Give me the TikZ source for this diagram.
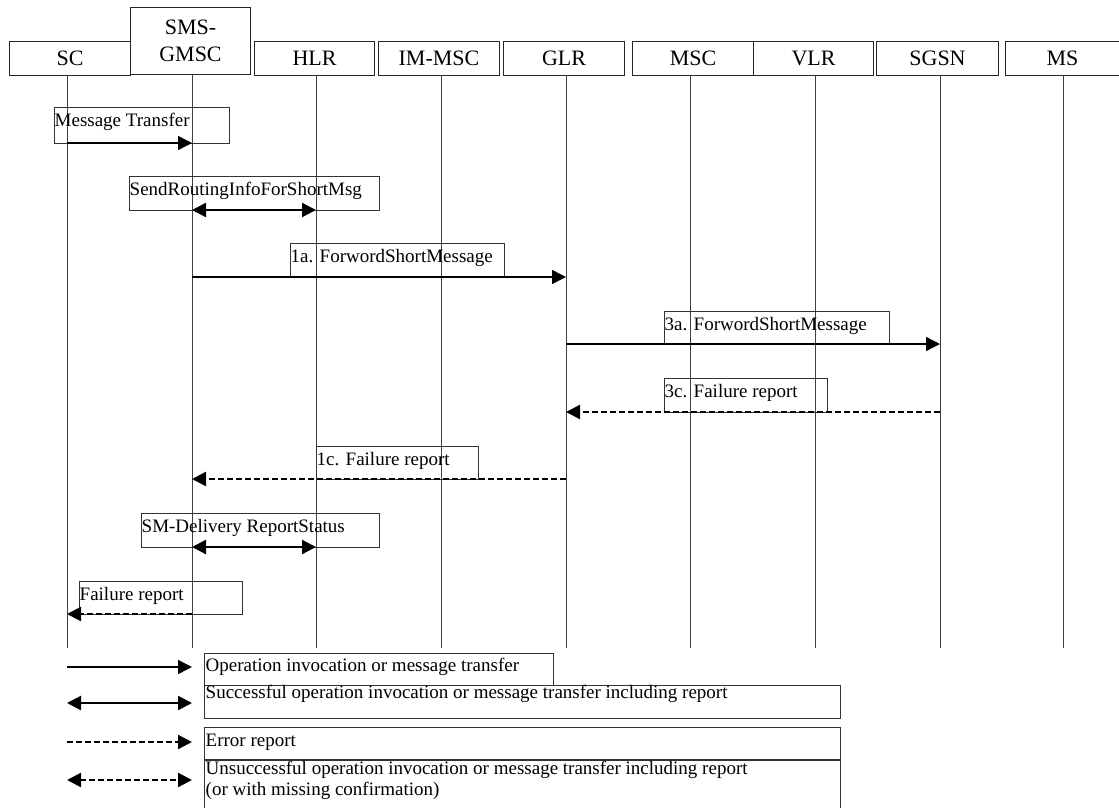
\documentclass[tikz,border=0pt]{standalone}
\usepackage{fontspec}
\setmainfont{Liberation Serif}
\usetikzlibrary{arrows.meta,calc}
\begin{document}
\begin{tikzpicture}[x=1pt,y=-1pt,
  hbox/.style={draw=black!85, line width=1pt, minimum height=34pt, anchor=north west, inner sep=0pt, font=\fontsize{22}{27}\selectfont},
  mbox/.style={draw=black!80, line width=0.9pt, anchor=north west, inner sep=0pt},
  mtext/.style={anchor=west, inner sep=0.5pt, font=\fontsize{19}{21}\selectfont},
  ltext/.style={anchor=west, inner sep=1.5pt, align=left, font=\fontsize{19}{21}\selectfont},
  life/.style={draw=black!75, line width=1pt},
  msg/.style={line width=1.4pt, -{Triangle[length=14pt,width=14pt]}},
  dmsg/.style={line width=2.2pt, {Triangle[length=14pt,width=14pt]}-{Triangle[length=14pt,width=14pt]}},
  emsg/.style={line width=2.2pt, dash pattern=on 6pt off 3pt, -{Triangle[length=14pt,width=14pt]}},
  demsg/.style={line width=2.2pt, dash pattern=on 6pt off 3pt, {Triangle[length=14pt,width=14pt]}-{Triangle[length=14pt,width=14pt]}}
]
\useasboundingbox (0,0) rectangle (1119,808);

% header boxes
\node[hbox, minimum width=121pt] (SC) at (9,41) {SC};
\node[hbox, minimum width=120pt, minimum height=67pt, align=center] (GMSC) at (130,7) {SMS-\\GMSC};
\node[hbox, minimum width=120pt] (HLR) at (254,41) {HLR};
\node[hbox, minimum width=121pt] (IMMSC) at (378,41) {IM-MSC};
\node[hbox, minimum width=121pt] (GLR) at (503,41) {GLR};
\node[hbox, minimum width=121pt] (MSC) at (632,41) {MSC};
\node[hbox, minimum width=120pt] (VLR) at (753,41) {VLR};
\node[hbox, minimum width=122pt] (SGSN) at (876,41) {SGSN};
\node[hbox, minimum width=120pt] (MS) at (1005,41) {\hspace*{-6pt}MS};

% lifelines
\foreach \n/\x in {SC/67, GMSC/192, HLR/316, IMMSC/441, GLR/566, MSC/690, VLR/815, SGSN/940, MS/1063} {
  \coordinate (\n t) at (\x,75);
  \coordinate (\n b) at (\x,648);
  \draw[life] (\n t) -- (\n b);
}

% row coordinates
\coordinate (r1) at (0,143);
\coordinate (r2) at (0,210);
\coordinate (r3) at (0,277);
\coordinate (r4) at (0,344);
\coordinate (r5) at (0,412);
\coordinate (r6) at (0,479);
\coordinate (r7) at (0,547);
\coordinate (r8) at (0,614);

% message boxes and texts
\node[mbox, minimum width=175pt, minimum height=36pt] (b1) at (54,107) {};
\node[mtext] (t1) at ([yshift=-15pt]b1.north west) {Message Transfer};
\node[mbox, minimum width=250pt, minimum height=34pt] (b2) at (129,176) {};
\node[mtext] (t2) at ([yshift=-15pt]b2.north west) {SendRoutingInfoForShortMsg};
\node[mbox, minimum width=214pt, minimum height=34pt] (b3) at (290,243) {};
\node[mtext] (t3) at ([yshift=-15pt]b3.north west) {1a. ForwordShortMessage};
\node[mbox, minimum width=225pt, minimum height=33pt] (b4) at (664,311) {};
\node[mtext] (t4) at ([yshift=-15pt]b4.north west) {3a. ForwordShortMessage};
\node[mbox, minimum width=163pt, minimum height=34pt] (b5) at (664,378) {};
\node[mtext] (t5) at ([yshift=-15pt]b5.north west) {3c. Failure report};
\node[mbox, minimum width=162pt, minimum height=33pt] (b6) at (316,446) {};
\node[mtext] (t6) at ([yshift=-15pt]b6.north west) {1c. Failure report};
\node[mbox, minimum width=238pt, minimum height=34pt] (b7) at (141,513) {};
\node[mtext] (t7) at ([yshift=-15pt]b7.north west) {SM-Delivery ReportStatus};
\node[mbox, minimum width=163pt, minimum height=33pt] (b8) at (79,581) {};
\node[mtext] (t8) at ([yshift=-15pt]b8.north west) {Failure report};

% messages
\draw[msg] (SCt |- r1) -- (GMSCt |- r1);
\draw[dmsg] (GMSCt |- r2) -- (HLRt |- r2);
\draw[msg] (GMSCt |- r3) -- (GLRt |- r3);
\draw[msg] (GLRt |- r4) -- (SGSNt |- r4);
\draw[emsg] (SGSNt |- r5) -- (GLRt |- r5);
\draw[emsg] (GLRt |- r6) -- (GMSCt |- r6);
\draw[dmsg] (GMSCt |- r7) -- (HLRt |- r7);
\draw[emsg] (GMSCt |- r8) -- (SCt |- r8);

% legend
\coordinate (l1a) at (67,667); \coordinate (l1b) at (192,667);
\coordinate (l2a) at (67,703); \coordinate (l2b) at (192,703);
\coordinate (l3a) at (67,742); \coordinate (l3b) at (192,742);
\coordinate (l4a) at (67,780); \coordinate (l4b) at (192,780);
\draw[msg] (l1a) -- (l1b);
\draw[dmsg] (l2a) -- (l2b);
\draw[emsg] (l3a) -- (l3b);
\draw[demsg] (l4a) -- (l4b);

\node[mbox, minimum width=349pt, minimum height=32pt] (lb1) at (204,653) {};
\node[ltext] (lt1) at ([yshift=-14pt]lb1.north west) {Operation invocation or message transfer};
\node[mbox, minimum width=636pt, minimum height=33pt] (lb2) at (204,685) {};
\node[ltext] (lt2) at ([yshift=-9pt]lb2.north west) {Successful operation invocation or message transfer including report};
\node[mbox, minimum width=636pt, minimum height=32pt] (lb3) at (204,727) {};
\node[ltext] (lt3) at ([yshift=-15pt]lb3.north west) {Error report};
\node[mbox, minimum width=636pt, minimum height=70pt] (lb4) at (204,760) {};
\node[ltext] (lt4) at ([yshift=-20pt]lb4.north west) {Unsuccessful operation invocation or message transfer including report\\(or with missing confirmation)};
\end{tikzpicture}
\end{document}
